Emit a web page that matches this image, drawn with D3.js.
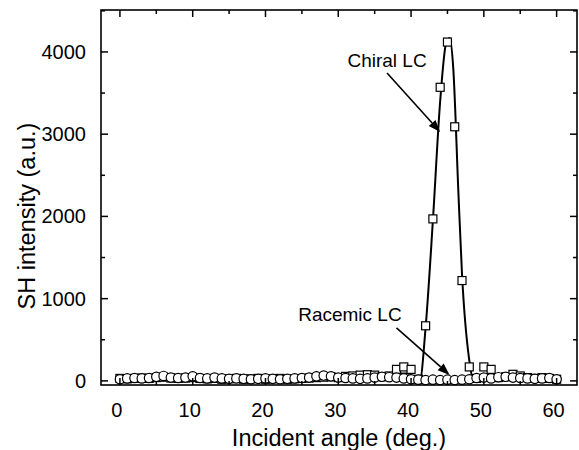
<!DOCTYPE html>
<html>
<head>
<meta charset="utf-8">
<script src="https://cdn.jsdelivr.net/npm/d3@7.9.0/dist/d3.min.js"></script>
<style>
  body { margin: 0; background: #fff; }
  text { font-family: Arial, "Liberation Sans", sans-serif; fill: #000; }
</style>
</head>
<body>
<svg id="chart" width="579" height="450"></svg>
<script>
// measured angles (deg.)
const angles = [0, 1, 2, 3, 4, 5, 6, 7, 8, 9, 10, 11, 12, 13, 14, 15, 16, 17, 18, 19, 20,
  21, 22, 23, 24, 25, 26, 27, 28, 29, 30, 31, 32, 33, 34, 35, 36, 37, 38, 39, 40,
  41, 42, 43, 44, 45, 46, 47, 48, 49, 50, 51, 52, 53, 54, 55, 56, 57, 58, 59, 60];

// SH intensity, chiral LC (squares)
const chiral = [30, 25, 30, 35, 30, 40, 45, 35, 30, 35, 40, 30, 25, 30, 20, 25, 30, 20, 25, 30, 20,
  25, 30, 20, 25, 30, 35, 40, 45, 50, 40, 55, 60, 70, 75, 70, 50, 60, 140, 170, 140,
  20, 670, 1970, 3570, 4120, 3090, 1220, 170, 30, 170, 140, 40, 50, 80, 60, 40, 30, 40, 30, 20];

// SH intensity, racemic LC (circles)
const racemic = [20, 30, 35, 30, 35, 50, 60, 40, 35, 40, 55, 35, 30, 40, 30, 25, 30, 25, 20, 25, 30,
  25, 20, 25, 30, 35, 40, 55, 65, 55, 40, 35, 30, 25, 30, 40, 50, 45, 40, 30, 20,
  15, 10, 15, 10, 15, 10, 15, 20, 35, 40, 30, 45, 50, 40, 35, 30, 25, 30, 35, 20];

// fitted curves
const chiralFitAngle = [0, 10, 20, 30, 36, 38, 39.5, 41.2, 42, 43, 44, 44.8, 45.3, 45.8, 46.5, 47, 48, 48.6, 50.5, 52, 60];
const chiralFitValue = [10, 15, 10, 20, 30, 90, 90, 0, 650, 1950, 3400, 4100, 4170, 3800, 2300, 1300, 250, 0, 60, 20, 10];
const racemicFitAngle = [0, 10, 20, 30, 40, 50, 60];
const racemicFitValue = [20, 25, 15, 30, 10, 30, 15];

const xTicks = [0, 10, 20, 30, 40, 50, 60];
const yTicks = [0, 1000, 2000, 3000, 4000];

const svg = d3.select('#chart');
const mLeft = 101, mRight = 577, mTop = 10, mBottom = 385;

const x = d3.scaleLinear().domain([-2.6, 62.8]).range([mLeft, mRight]);
const y = d3.scaleLinear().domain([-50, 4510]).range([mBottom, mTop]);

const lineGen = d3.line().x((d) => x(d[0])).y((d) => y(d[1])).curve(d3.curveMonotoneX);

// chiral fit line
svg.append('path')
  .attr('d', lineGen(chiralFitAngle.map((a, i) => [a, chiralFitValue[i]])))
  .attr('fill', 'none')
  .attr('stroke', '#000')
  .attr('stroke-width', 2);

// chiral squares
const sq = 8;
svg.append('g').selectAll('rect')
  .data(angles.map((a, i) => [a, chiral[i]]))
  .join('rect')
  .attr('x', (d) => x(d[0]) - sq / 2)
  .attr('y', (d) => y(d[1]) - sq / 2)
  .attr('width', sq)
  .attr('height', sq)
  .attr('fill', '#fff')
  .attr('stroke', '#000')
  .attr('stroke-width', 1.2);

// racemic fit line
svg.append('path')
  .attr('d', lineGen(racemicFitAngle.map((a, i) => [a, racemicFitValue[i]])))
  .attr('fill', 'none')
  .attr('stroke', '#000')
  .attr('stroke-width', 2);

// racemic circles
svg.append('g').selectAll('circle')
  .data(angles.map((a, i) => [a, racemic[i]]))
  .join('circle')
  .attr('cx', (d) => x(d[0]))
  .attr('cy', (d) => y(d[1]))
  .attr('r', 4.7)
  .attr('fill', '#fff')
  .attr('stroke', '#000')
  .attr('stroke-width', 1.2);

// frame
svg.append('rect')
  .attr('x', mLeft).attr('y', mTop)
  .attr('width', mRight - mLeft).attr('height', mBottom - mTop)
  .attr('fill', 'none')
  .attr('stroke', '#000')
  .attr('stroke-width', 1.6);

// inward ticks on all four sides
const ticks = svg.append('g').attr('stroke', '#000').attr('stroke-width', 1.5);
d3.range(0, 61, 5).forEach((a) => {
  const len = a % 10 === 0 ? 7 : 4;
  ticks.append('line').attr('x1', x(a)).attr('x2', x(a)).attr('y1', mTop).attr('y2', mTop + len);
  ticks.append('line').attr('x1', x(a)).attr('x2', x(a)).attr('y1', mBottom).attr('y2', mBottom - len);
});
d3.range(0, 4501, 500).forEach((v) => {
  const len = v % 1000 === 0 ? 7 : 4;
  ticks.append('line').attr('x1', mLeft).attr('x2', mLeft + len).attr('y1', y(v)).attr('y2', y(v));
  ticks.append('line').attr('x1', mRight).attr('x2', mRight - len).attr('y1', y(v)).attr('y2', y(v));
});

// tick labels
svg.append('g').selectAll('text')
  .data(xTicks)
  .join('text')
  .attr('x', (d) => x(d) - 3)
  .attr('y', 417)
  .attr('text-anchor', 'middle')
  .attr('font-size', 20)
  .text((d) => d);

svg.append('g').selectAll('text')
  .data(yTicks)
  .join('text')
  .attr('x', 86)
  .attr('y', (d) => y(d) + 7)
  .attr('text-anchor', 'end')
  .attr('font-size', 20)
  .text((d) => d);

// axis titles
svg.append('text')
  .attr('x', 339)
  .attr('y', 446)
  .attr('text-anchor', 'middle')
  .attr('font-size', 23.5)
  .text('Incident angle (deg.)');

svg.append('text')
  .attr('transform', 'translate(35,216) rotate(-90)')
  .attr('text-anchor', 'middle')
  .attr('font-size', 23.5)
  .text('SH intensity (a.u.)');

// annotations with arrows
function arrow(x1, y1, x2, y2) {
  const px1 = x(x1), py1 = y(y1), px2 = x(x2), py2 = y(y2);
  const ang = Math.atan2(py2 - py1, px2 - px1);
  const L = 12, W = 4.5;
  const bx = px2 - L * Math.cos(ang), by = py2 - L * Math.sin(ang);
  svg.append('line')
    .attr('x1', px1).attr('y1', py1).attr('x2', bx).attr('y2', by)
    .attr('stroke', '#000').attr('stroke-width', 1.6);
  svg.append('path')
    .attr('d', `M${px2},${py2}L${bx - W * Math.sin(ang)},${by + W * Math.cos(ang)}L${bx + W * Math.sin(ang)},${by - W * Math.cos(ang)}Z`)
    .attr('fill', '#000');
}

svg.append('text')
  .attr('x', x(36.7)).attr('y', y(3818))
  .attr('text-anchor', 'middle')
  .attr('font-size', 19)
  .text('Chiral LC');
arrow(36.7, 3745, 44.0, 3027);

svg.append('text')
  .attr('x', x(31.6)).attr('y', y(730))
  .attr('text-anchor', 'middle')
  .attr('font-size', 19)
  .text('Racemic LC');
arrow(38.0, 644, 45.3, 73);
</script>
</body>
</html>
